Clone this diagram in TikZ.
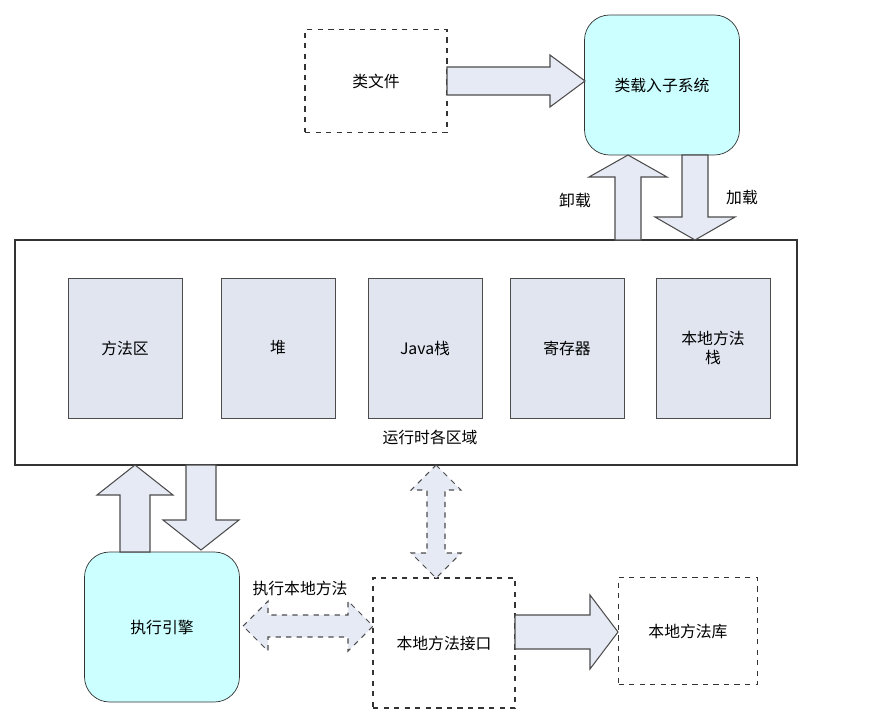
\documentclass[tikz,border=0pt]{standalone}
\usepackage{fontspec}
\newfontfamily\cjk{Noto Sans CJK SC}
\usetikzlibrary{positioning}
\definecolor{arrowfill}{RGB}{230,234,244}
\definecolor{boxfill}{RGB}{224,229,240}
\definecolor{cyanfill}{RGB}{204,255,255}
% fat arrow: start x, start y, angle, length, shaft half, head half, head length
\newcommand\fatarrow[8][]{%
  \draw[fat,#1,shift={(#2,#3)},rotate=#4] (0,-#6) -- ({#5-#8},-#6) -- ({#5-#8},-#7) -- (#5,0)
    -- ({#5-#8},#7) -- ({#5-#8},#6) -- (0,#6) -- cycle;}
% double fat arrow, same arguments
\newcommand\dfatarrow[8][]{%
  \draw[fat,#1,shift={(#2,#3)},rotate=#4] (0,0) -- (#8,-#7) -- (#8,-#6) -- ({#5-#8},-#6) -- ({#5-#8},-#7) -- (#5,0)
    -- ({#5-#8},#7) -- ({#5-#8},#6) -- (#8,#6) -- (#8,#7) -- cycle;}
\begin{document}
\begin{tikzpicture}[x=0.02cm,y=-0.02cm,
    font=\cjk\small,
    fat/.style={draw=black!70, fill=arrowfill, line width=0.6pt},
    dashedbox/.style={draw=black!80, dashed, line width=0.6pt, minimum width=2.84cm, minimum height=2.06cm, align=center},
    engine/.style={draw=black!80, fill=cyanfill, rounded corners=5mm, align=center, minimum width=3.1cm},
    area/.style={draw=black!70, fill=boxfill, minimum width=2.28cm, minimum height=2.8cm, align=center}
]
\useasboundingbox (0,0) rectangle (870,727);

% runtime area
\node[draw=black!80, line width=0.8pt, minimum width=15.64cm, minimum height=4.5cm] (runtime) at (406,352.5) {};
\node (method) at (125,348) [area] {方法区};
\node (heap) at (278,348) [area] {堆};
\node (jstack) at (425,348) [area] {Java栈};
\node (reg) at (567,348) [area] {寄存器};
\node (nstack) at (713,348) [area] {本地方法\\栈};
\node at (430,437) {运行时各区域};

% loader part
\node[dashedbox] (classfile) at (376,81) {类文件};
\node[engine, minimum height=2.8cm] (loader) at (662,85) {类载入子系统};
\fatarrow{447}{81}{0}{138}{14}{26}{35}
\fatarrow{628}{240}{90}{85}{13}{39}{22}
\fatarrow{695}{155}{-90}{85}{13}{40}{23}
\node at (575,200) {卸载};
\node at (742,197) {加载};

% execution part
\node[engine, minimum height=3cm] (engine) at (162,627) {执行引擎};
\fatarrow{135}{552}{90}{87}{15}{38}{30}
\fatarrow{201}{465}{-90}{85}{15}{38}{30}
\node[dashedbox, minimum height=2.6cm] (jni) at (444,643) {本地方法接口};
\node[dashedbox, minimum width=2.78cm, minimum height=2.14cm] (nlib) at (688,631) {本地方法库};
\dfatarrow[dashed]{436}{465}{-90}{113}{9}{25}{25}
\dfatarrow[dashed]{243}{626}{0}{130}{11}{25}{25}
\node at (300,588) {执行本地方法};
\fatarrow{515}{632}{0}{103}{17}{37}{28}
\end{tikzpicture}
\end{document}
